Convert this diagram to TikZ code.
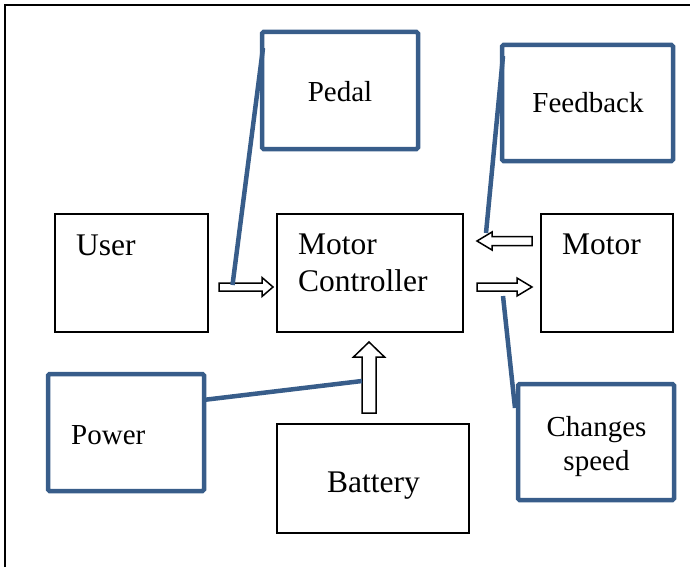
\documentclass[tikz,border=0pt]{standalone}
\usepackage{fontspec}
\setmainfont{Liberation Serif}
\definecolor{calloutblue}{RGB}{56,93,138}
\begin{document}
\begin{tikzpicture}[x=1pt,y=-1pt,
  plainbox/.style={draw=black,line width=1.6pt,fill=white},
  bluebox/.style={draw=calloutblue,line width=4.5pt,rounded corners=1.5pt,fill=white},
  blueline/.style={draw=calloutblue,line width=4.5pt},
  blockarrow/.style={draw=black,line width=1.5pt,fill=white,line join=miter},
  maintxt/.style={inner sep=0pt,anchor=base west,font=\fontsize{31.5}{37}\selectfont},
  calltxt/.style={inner sep=0pt,anchor=base,font=\fontsize{29}{34}\selectfont}]
\useasboundingbox (0,0) rectangle (690,567);
% frame
\draw[line width=2pt] (5,567) -- (5,5) -- (690,5);
% plain boxes
\draw[plainbox] (55,214) rectangle (208,332);
\coordinate (user) at (131.5,273);
\draw[plainbox] (277,214) rectangle (463,332);
\coordinate (ctrl) at (370,273);
\draw[plainbox] (541,214) rectangle (673,332);
\coordinate (motor) at (607,273);
\draw[plainbox] (277,424) rectangle (469,533);
\coordinate (batt) at (373,478.5);
% blue boxes
\draw[bluebox] (262,32) rectangle (418,149);
\draw[bluebox] (502,45) rectangle (673,161);
\draw[bluebox] (48,374) rectangle (204,491);
\draw[bluebox] (518,384) rectangle (674,500);
% texts
\node[maintxt] (tuser) at (76,255) {User};
\node[maintxt] (tmotor1) at (298,254) {Motor};
\node[maintxt] (tctrl) at (298,291) {Controller};
\node[maintxt] (tmotor) at (562,254) {Motor};
\node[maintxt] (tbatt) at (327,492) {Battery};
\node[calltxt] (tpedal) at (340,102) {Pedal};
\node[calltxt] (tfeed) at (588,113) {Feedback};
\node[calltxt,anchor=base west] (tpower) at (71,444) {Power};
\node[calltxt] (tchg1) at (596.5,436) {Changes};
\node[calltxt] (tchg2) at (596.5,470) {speed};
% block arrows
\draw[blockarrow] (219,283) -- (262,283) -- (262,277.5) -- (273,287) -- (262,296.5) -- (262,291) -- (219,291) -- cycle;
\draw[blockarrow] (532,236.5) -- (492,236.5) -- (492,232) -- (477,241) -- (492,250) -- (492,245.5) -- (532,245.5) -- cycle;
\draw[blockarrow] (477,283) -- (517,283) -- (517,278) -- (532,287) -- (517,296) -- (517,291) -- (477,291) -- cycle;
\draw[blockarrow] (362,413) -- (362,357) -- (353.5,357) -- (369,342) -- (384.5,357) -- (376,357) -- (376,413) -- cycle;
% callout lines
\coordinate (pedalA) at (263,48);
\coordinate (pedalB) at (232.5,285);
\draw[blueline] (pedalA) -- (pedalB);
\coordinate (feedA) at (503,56);
\coordinate (feedB) at (486,233);
\draw[blueline] (feedA) -- (feedB);
\coordinate (powA) at (203,400);
\coordinate (powB) at (362,381);
\draw[blueline] (powA) -- (powB);
\coordinate (chgA) at (503,296);
\coordinate (chgB) at (515,408);
\draw[blueline] (chgA) -- (chgB);
\end{tikzpicture}
\end{document}
